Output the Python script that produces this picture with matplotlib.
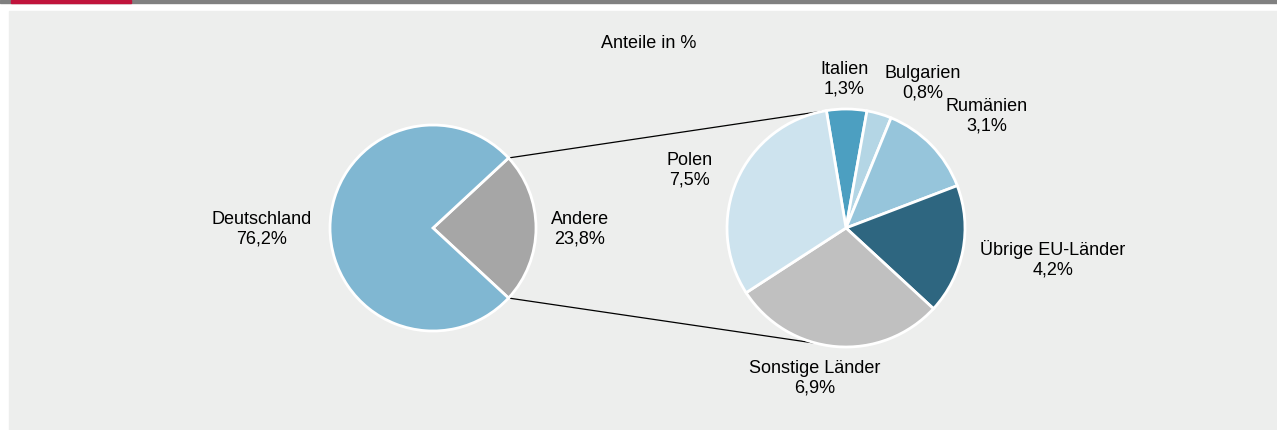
import numpy as np
import matplotlib
matplotlib.use('Agg')
from matplotlib import pyplot as plt
from matplotlib.patches import Rectangle

plt.rcParams['font.family'] = ['Liberation Sans', 'DejaVu Sans']

# left pie
main_labels = ['Andere', 'Deutschland']
main_values = [23.8, 76.2]
main_colors = ['#a6a6a6', '#80b7d2']

# right pie (breakdown of "Andere")
sub_labels = ['Italien', 'Bulgarien', 'Rumänien', 'Übrige EU-Länder', 'Sonstige Länder', 'Polen']
sub_values = [1.3, 0.8, 3.1, 4.2, 6.9, 7.5]
sub_colors = ['#4c9fc1', '#b4d6e5', '#96c5db', '#2e6680', '#c0c0c0', '#cde3ee']

W, H = 1277, 430
fig = plt.figure(figsize=(W / 100, H / 100), dpi=100)
ax = fig.add_axes([0, 0, 1, 1])
ax.set_xlim(0, W)
ax.set_ylim(0, H)
ax.set_aspect('equal')
ax.axis('off')

def Y(y):
    # image y (top down) -> data y
    return H - y

# background panel and top rule
ax.add_patch(Rectangle((9, 0), W - 9, Y(11), color='#edeeed', zorder=0))
ax.add_patch(Rectangle((0, Y(2.5)), W, 2.5, color='#808080', zorder=1))
ax.add_patch(Rectangle((11, Y(2.5)), 120, 2.5, color='#c0143c', zorder=2))

fs = 13
ax.text(649, Y(44), 'Anteile in %', ha='center', va='center', fontsize=fs)

# left pie
c1 = (433, Y(228))
r1 = 103
half = main_values[0] / 100 * 360 / 2
ax.pie(main_values, colors=main_colors, startangle=-half, center=c1, radius=r1,
       wedgeprops=dict(edgecolor='white', linewidth=2), frame=True)

# right pie
c2 = (846, Y(228))
r2 = 119
start2 = 99.5
ax.pie(sub_values, colors=sub_colors, startangle=start2, counterclock=False,
       center=c2, radius=r2, wedgeprops=dict(edgecolor='white', linewidth=2), frame=True)
ax.set_xlim(0, W)
ax.set_ylim(0, H)
ax.axis('off')

# connector lines
def on_circle(c, r, ang):
    a = np.deg2rad(ang)
    return c[0] + r * np.cos(a), c[1] + r * np.sin(a)

p1 = on_circle(c1, r1, half)
q1 = on_circle(c2, r2, start2)
p2 = on_circle(c1, r1, -half)
q2 = on_circle(c2, r2, 256)
ax.plot([p1[0], q1[0]], [p1[1], q1[1]], color='black', lw=0.9, zorder=0.5)
ax.plot([p2[0], q2[0]], [p2[1], q2[1]], color='black', lw=0.9, zorder=0.5)

def fmt(v):
    return f'{v:.1f}'.replace('.', ',') + '%'

main_pos = {'Deutschland': (262, 229), 'Andere': (580, 229)}
for lab, v in zip(main_labels, main_values):
    x, y = main_pos[lab]
    ax.text(x, Y(y), f'{lab}\n{fmt(v)}', ha='center', va='center', fontsize=fs)

sub_pos = {'Italien': (844, 79), 'Bulgarien': (923, 83), 'Rumänien': (987, 116),
           'Übrige EU-Länder': (1053, 259), 'Sonstige Länder': (815, 378), 'Polen': (690, 170)}
for lab, v in zip(sub_labels, sub_values):
    x, y = sub_pos[lab]
    ax.text(x, Y(y), f'{lab}\n{fmt(v)}', ha='center', va='center', fontsize=fs)

fig.savefig('out.png', dpi=100)
